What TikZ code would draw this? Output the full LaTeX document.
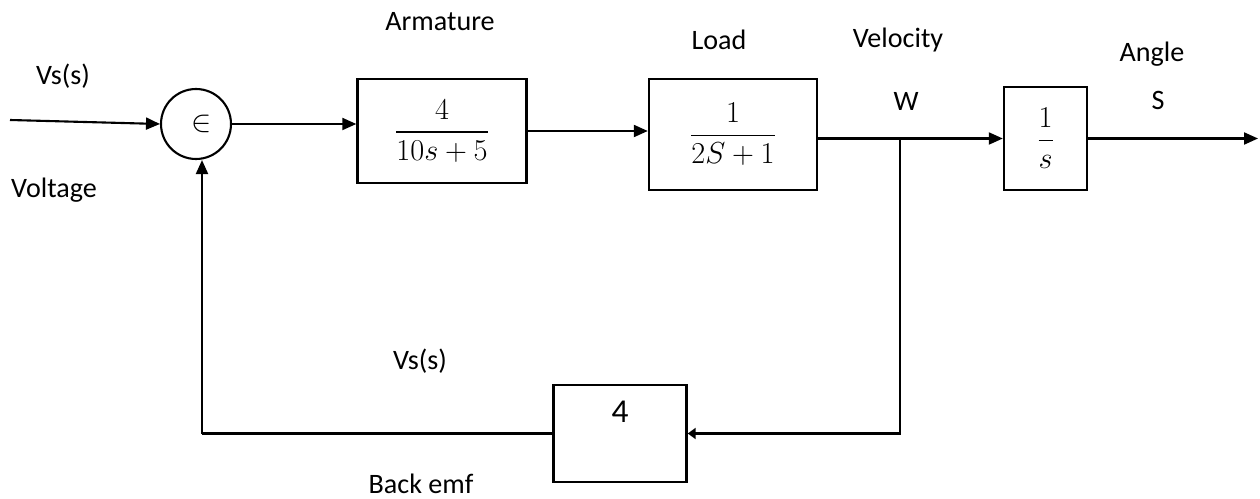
\documentclass[tikz,border=0pt]{standalone}
\usepackage{amsmath}
\usepackage{fontspec}
\setmainfont{Carlito}
\usepackage{tikz}
\usetikzlibrary{arrows.meta,positioning,calc}
\tikzset{
  blk/.style={draw, line width=1.4pt, inner sep=0pt, font=\fontsize{17}{20}\selectfont},
  sumj/.style={draw, circle, line width=1.2pt, minimum size=1.4cm, inner sep=0pt,
               font=\fontsize{17}{20}\selectfont},
  flow/.style={-{Triangle[length=2.8mm, width=2.4mm]}, line width=1.2pt},
  wire/.style={line width=1.2pt},
  lbl/.style={font=\fontsize{16}{19}\selectfont, inner sep=1pt},
}

\begin{document}
\begin{tikzpicture}[x=0.02cm, y=-0.02cm]
  \useasboundingbox (0,0) rectangle (1260,499);
  % forward path --- summing point, armature, load, integrator
  \node[sumj] (sum) at (196,124) {\hspace{6pt}\raisebox{-3pt}{$\in$}};
  \node[blk, minimum width=3.38cm, minimum height=2.08cm] (arm) at (442,131) {$\dfrac{4}{10s+5}$};
  \node[blk, minimum width=3.36cm, minimum height=2.22cm] (load) at (733,134.5) {$\dfrac{1}{2S+1}$};
  \node[blk, minimum width=1.66cm, minimum height=2.06cm] (intg) at (1045.5,138.5) {$\dfrac{1}{s}$};
  \coordinate (vin) at (10,120);
  \coordinate (tap) at (900,138.5);
  \coordinate (vout) at (1258,138.5);
  \draw[flow] (vin) -- (sum.west);
  \draw[flow] (sum.east) -- (sum.east -| arm.west);
  \draw[flow] (arm.east) -- (arm.east -| load.west);
  \draw[wire] (intg.west -| load.east) -- (tap);
  \draw[flow] (tap) -- (intg.west);
  \draw[flow] (intg.east) -- (vout);
  % feedback path --- back emf
  \node[blk, minimum width=2.66cm, minimum height=1.94cm, text depth=0.85cm] (emf) at (620,433.5) {\fontsize{19}{22}\selectfont 4};
  \coordinate (fbl) at (202,433.5);
  \draw[-{Triangle[length=1.6mm, width=2.2mm]}, line width=1.2pt] (tap) |- (emf.east);
  \draw[wire] (emf.west) -- (fbl);
  \draw[flow] (fbl) -- (fbl |- sum.south);
  % labels
  \node[lbl] (l1) at (63,76) {Vs(s)};
  \node[lbl] (l2) at (54,190) {Voltage};
  \node[lbl] (l3) at (440,22) {Armature};
  \node[lbl] (l4) at (719,40) {Load};
  \node[lbl] (l5) at (898,40) {Velocity};
  \node[lbl] (l6) at (906,101) {W};
  \node[lbl] (l7) at (1152,54) {Angle};
  \node[lbl] (l8) at (1158,100) {S};
  \node[lbl] (l9) at (420,361) {Vs(s)};
  \node[lbl] (l10) at (421,484) {Back emf};
\end{tikzpicture}
\end{document}
